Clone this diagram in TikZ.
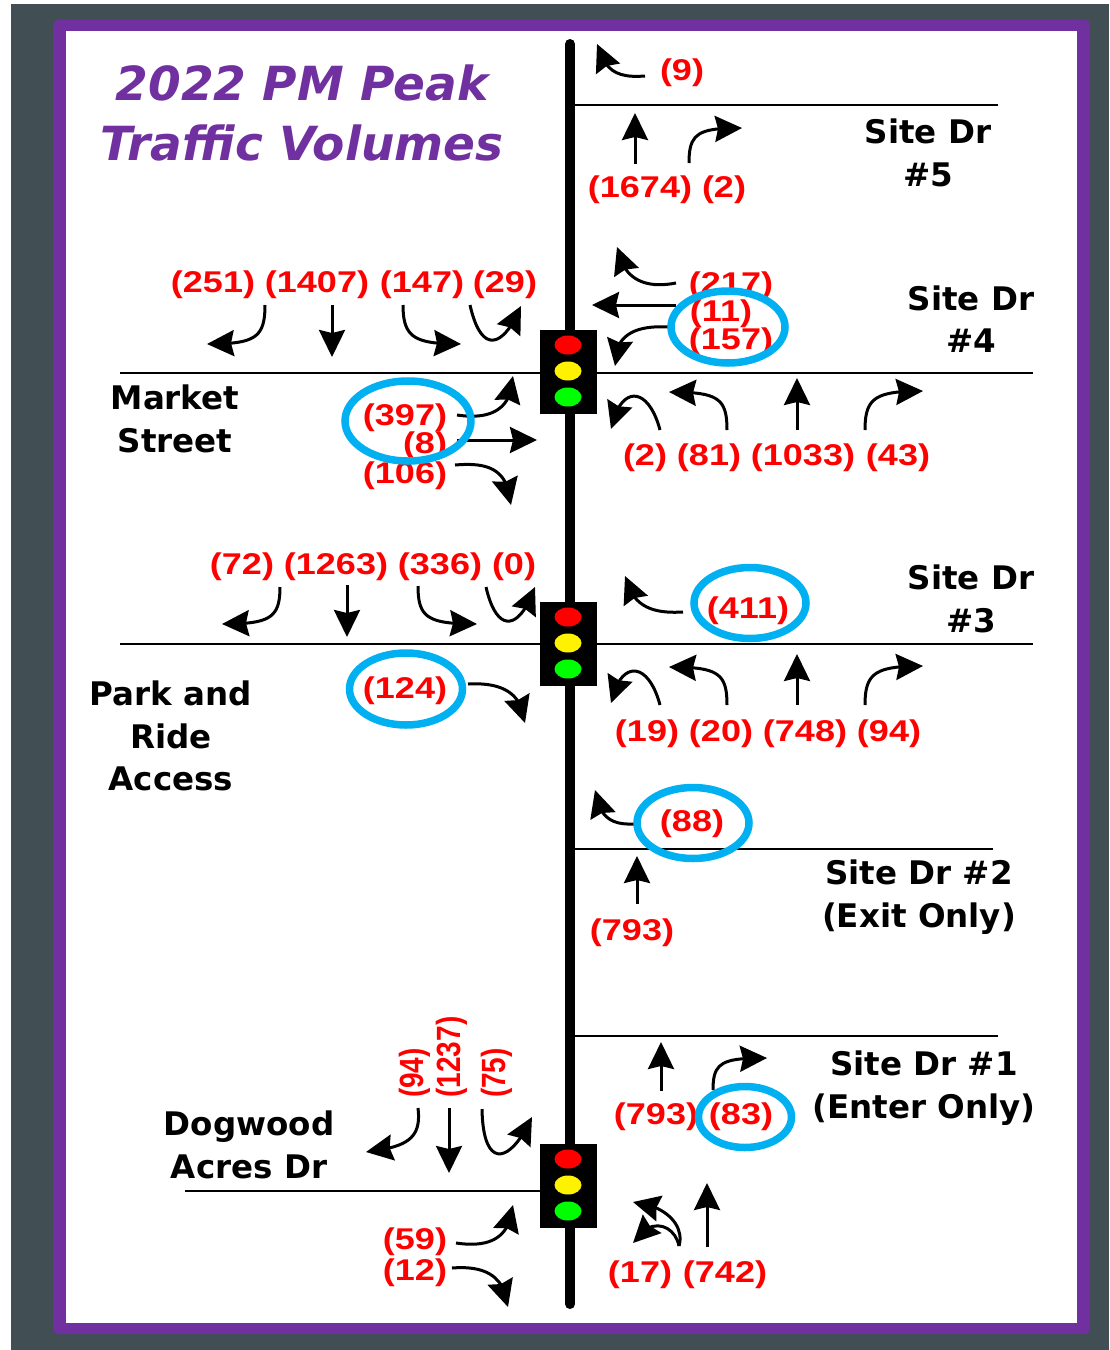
\documentclass[tikz,border=0pt]{standalone}
\usepackage{fontspec}
\usepackage{xcolor}
\usetikzlibrary{arrows.meta,bending,shapes.geometric}
\newfontfamily\volfont[FakeStretch=1.2]{Liberation Sans}
\newfontfamily\tallfont{Liberation Sans}
\newfontfamily\namefont{DejaVu Sans}
\definecolor{slateback}{HTML}{414F54}
\definecolor{frameviolet}{HTML}{7030A0}
\definecolor{halocyan}{HTML}{00B0F0}
\begin{document}
\begin{tikzpicture}[x=1pt,y=-1pt,
volume/.style={text=red,inner sep=0pt,yshift=-2.5pt,font=\volfont\bfseries\fontsize{30}{32}\selectfont},
tallvolume/.style={text=red,inner sep=0pt,rotate=90,font=\tallfont\bfseries\fontsize{28}{30}\selectfont},
streetname/.style={align=center,inner sep=0pt,text=black,font=\namefont\bfseries\fontsize{32.5}{42.5}\selectfont},
headline/.style={align=center,inner sep=0pt,text=frameviolet,font=\namefont\bfseries\itshape\fontsize{47}{60}\selectfont},
halo/.style={ellipse,draw=halocyan,line width=7.5pt,inner sep=0pt},
signal/.style={rectangle,fill=black,inner sep=0pt,minimum width=57pt,minimum height=84pt},
lamp/.style={ellipse,inner sep=0pt,minimum width=27pt,minimum height=19pt},
flow/.style={line width=3pt,-{Stealth[length=27pt,width=26pt,inset=3pt,flex]}},
road/.style={line width=2.6pt}]
\useasboundingbox (0,0) rectangle (1109,1350);
\fill[slateback] (11,4) rectangle (1109,1350);
\fill[frameviolet,rounded corners=5pt] (53,20) rectangle (1090,1334);
\fill[white] (66,31) rectangle (1077,1323);
% main road and signals
\coordinate (roadtop) at (570,44);
\coordinate (roadend) at (570,1304);
\draw[line width=10pt,line cap=round] (roadtop)--(roadend);
\foreach \n/\y in {market/372,park/644,acres/1186}{
\node[signal] (\n) at (568.5,\y) {};
\node[lamp,fill=red] (\n r) at (568,\y-27) {};
\node[lamp,fill=yellow] (\n y) at (568,\y-1) {};
\node[lamp,fill=green] (\n g) at (568,\y+25) {};
}
% cross streets
\coordinate (mw) at (120,373);
\coordinate (me) at (1033,373);
\coordinate (pw) at (120,644);
\coordinate (pe) at (1033,644);
\coordinate (aw) at (185,1191);
\draw[road] (mw)--(mw-|market.west);
\draw[road] (me)--(me-|market.east);
\draw[road] (pw)--(pw-|park.west);
\draw[road] (pe)--(pe-|park.east);
\draw[road] (aw)--(aw-|acres.west);
\foreach \n/\y/\x in {five/105/998,two/849/993,one/1036/998}{
\coordinate (\n s) at (574,\y);
\coordinate (\n e) at (\x,\y);
\draw[road] (\n s)--(\n e);
}
% straight movements
\foreach \ax/\ay/\dx/\dy [count=\n] in {635/164/635/113,332/305/332/357,676/305/592/305,797/430/797/378,457/440/537/440,347/585/347/637,797/705/797/654,637/904/637/856,661/1091/661/1042,449/1108/449/1173,707/1247/707/1183}{
\coordinate (sa\n) at (\ax,\ay);
\coordinate (sb\n) at (\dx,\dy);
\draw[flow] (sa\n)--(sb\n);
}
% turning movements
\foreach \ax/\ay/\bx/\by/\cx/\cy/\dx/\dy [count=\n] in {
645/76/618/78/605/72/597/44,
689/163/689/133/698/128/742/128,
265/305/265/338/255/344/207/344,
403/305/403/338/415/344/461/344,
470/305/482/358/505/345/521/306,
676/283/640/290/622/275/617/247,
669/327/635/325/614/335/615/366,
660/430/648/385/620/385/611/429,
727/430/727/398/718/392/669/392,
865/430/865/398/875/391/923/391,
457/415/490/420/512/410/513/376,
455/465/490/462/508/470/511/505,
280/587/280/618/270/624/222/624,
418/586/418/618/428/624/477/624,
486/587/497/635/520/630/535/587,
683/612/650/614/632/605/625/576,
660/705/648/660/620/660/611/703,
727/705/727/673/718/667/669/667,
865/705/865/673/875/666/923/666,
468/684/505/682/522/695/525/723,
634/824/612/825/599/818/595/790,
713/1090/713/1062/722/1058/767/1058,
418/1108/422/1140/405/1147/366/1152,
482/1109/483/1170/510/1165/532/1117,
456/1243/490/1248/510/1238/513/1205,
452/1268/490/1265/505/1280/508/1307,
679/1246/685/1225/665/1205/633/1202,
679/1246/675/1225/650/1215/633/1243}{
\coordinate (ta\n) at (\ax,\ay);
\coordinate (tb\n) at (\dx,\dy);
\draw[flow] (ta\n) .. controls (\bx,\by) and (\cx,\cy) .. (tb\n);
}
% volumes
\foreach \t/\x/\y [count=\n] in {(9)/682/70,(1674)/640/187,(2)/724/187,
(251)/213/282,(1407)/317/282,(147)/422/282,(29)/505/282,
(217)/731/283,(11)/721/311,(157)/731/339,
(397)/405/415,(8)/425/443,(106)/405/473,
(2)/645/455,(81)/709/455,(1033)/803/455,(43)/898/455,
(72)/242/564,(1263)/336/564,(336)/440/564,(0)/514/564,
(411)/748/608,(124)/405/688,
(19)/647/731,(20)/721/731,(748)/805/731,(94)/889/731,
(88)/692/821,(793)/632/930,
(793)/656/1114,(83)/741/1114,
(59)/415/1239,(12)/415/1270,(17)/640/1272,(742)/725/1272}{
\node[volume] (vol\n) at (\x,\y) {\t};
}
\foreach \t/\x/\y [count=\n] in {(94)/415/1073,(1237)/452/1057,(75)/497/1073}{
\node[tallvolume] (tall\n) at (\x,\y) {\scalebox{1}[1.2]{\t}};
}
% circled volumes
\foreach \x/\y/\w/\h [count=\n] in {408/421/126/80,728/327/114/72,750/603/112/71,406/689/113/72,693/823/112/71,745/1117/93/61}{
\node[halo,minimum width=\w pt,minimum height=\h pt] (ring\n) at (\x,\y) {};
}
% street names
\node[headline] (title) at (302,113) {2022 PM Peak\\Traffic Volumes};
\node[streetname] (site5) at (928,153) {Site Dr\\\#5};
\node[streetname] (site4) at (971,319) {Site Dr\\\#4};
\node[streetname] (site3) at (971,599) {Site Dr\\\#3};
\node[streetname] (street) at (175,419) {Market\\Street};
\node[streetname] (access) at (171,736) {Park and\\Ride\\Access};
\node[streetname] (site2) at (919,897) {Site Dr \#2\\(Exit Only)};
\node[streetname] (site1) at (924,1088) {Site Dr \#1\\(Enter Only)};
\node[streetname] (acres name) at (249,1145) {Dogwood\\Acres Dr};
\end{tikzpicture}
\end{document}
